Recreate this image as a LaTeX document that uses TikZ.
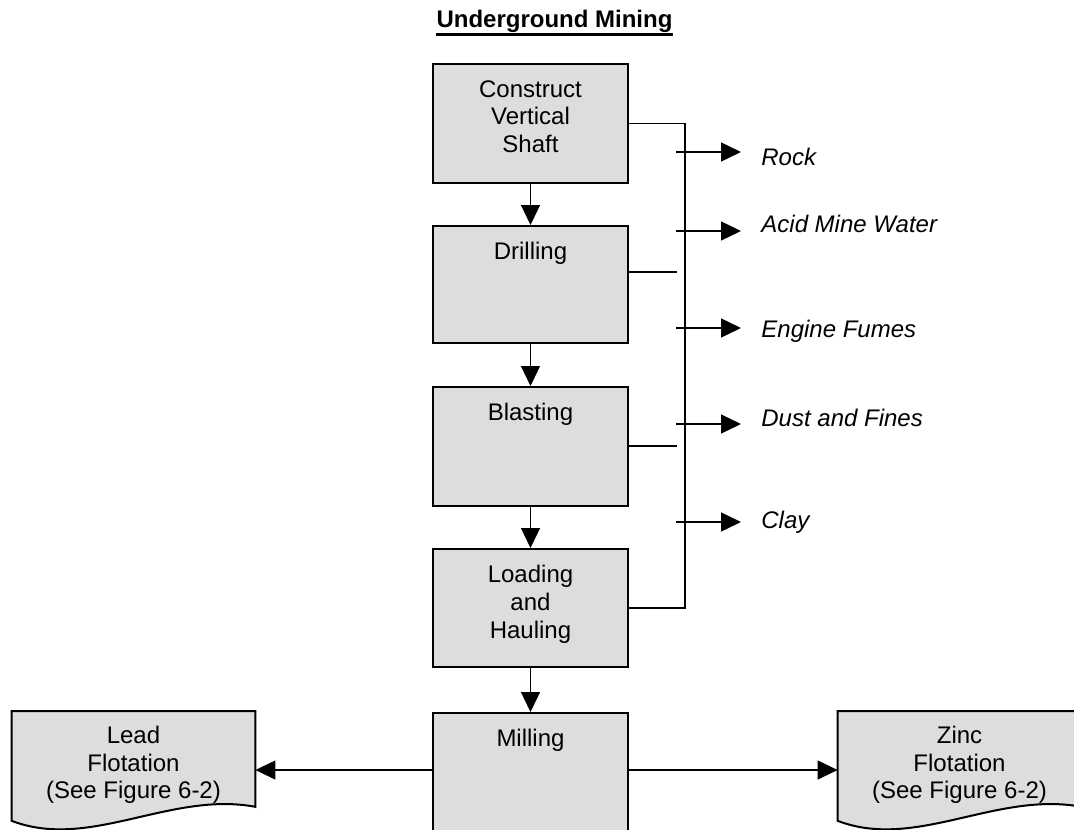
\documentclass[tikz,border=0pt]{standalone}
\usepackage{fontspec}
\setmainfont{Liberation Sans}
\usepackage{xcolor}
\usetikzlibrary{calc,
	positioning,
	arrows.meta}
\definecolor{boxgray}{RGB}{221,221,221}
\newcommand{\txtsize}{\fontsize{12pt}{13.8pt}\selectfont}
\tikzstyle{proc}=[draw, fill=boxgray, line width=1pt, minimum width=97.5pt, inner sep=0]
\tikzstyle{toplbl}=[anchor=north, inner sep=0, yshift=-8.5pt, align=center, font=\txtsize]
\tikzstyle{doc}=[anchor=north, minimum width=121.5pt, minimum height=53.5pt, inner sep=0,
		align=center, font=\txtsize]
\tikzstyle{docline}=[draw, fill=boxgray, line width=1pt]
\tikzstyle{wire}=[line width=0.65pt]
\tikzstyle{flow}=[line width=0.65pt, -{Triangle[length=10pt,width=9.5pt]}]
\tikzstyle{outlbl}=[anchor=base west, inner xsep=10pt, inner ysep=0, font=\txtsize\itshape]
\pgfdeclarelayer{back}
\pgfsetlayers{back,main}

\begin{document}
\begin{tikzpicture}[x=0.5pt, y=-0.5pt]
        \useasboundingbox (0,0) rectangle (1074,829);
        \node[anchor=base, inner sep=0, font=\txtsize\bfseries] (title) at (554.5,28) {Underground Mining};
        \draw[line width=1.4pt] ([yshift=-0.6pt]title.south west) -- ([yshift=-0.6pt]title.south east);

        % process column
        \node[proc, minimum height=59.5pt, label={[toplbl]north:Construct\\Vertical\\Shaft}] (shaft) at (530.5,123.5) {};
        \node[proc, minimum height=58.5pt, label={[toplbl]north:Drilling}] (drill) at (530.5,284.5) {};
        \node[proc, minimum height=59.5pt, label={[toplbl]north:Blasting}] (blast) at (530.5,446.5) {};
        \node[proc, minimum height=59pt, label={[toplbl]north:Loading\\and\\Hauling}] (load) at (530.5,608) {};
        \node[proc, anchor=north, minimum height=70pt, label={[toplbl]north:Milling}] (mill) at (530.5,712) {};
        \draw[flow] (shaft) -- (drill);
        \draw[flow] (drill) -- (blast);
        \draw[flow] (blast) -- (load);
        \draw[flow] (load) -- (mill);

        % side streams
        \coordinate (buscorner) at (685,608);
        \draw[wire] (shaft.east) -| (buscorner) -- (load.east);
        \coordinate (drillstub) at (677,272);
        \draw[wire] (drill.east |- drillstub) -- (drillstub);
        \coordinate (blaststub) at (677,446);
        \draw[wire] (blast.east |- blaststub) -- (blaststub);

        \node[outlbl] (rock) at (741,165) {Rock};
        \node[outlbl] (water) at (741,232) {Acid Mine Water};
        \node[outlbl] (fumes) at (741,337) {Engine Fumes};
        \node[outlbl] (dust) at (741,426) {Dust and Fines};
        \node[outlbl] (clay) at (741,528) {Clay};
        \coordinate (rockin) at (676,152);
        \coordinate (waterin) at (676,231);
        \coordinate (fumesin) at (676,328);
        \coordinate (dustin) at (676,424);
        \coordinate (clayin) at (676,522);
        \draw[flow] (rockin) -- (rockin -| rock.west);
        \draw[flow] (waterin) -- (waterin -| water.west);
        \draw[flow] (fumesin) -- (fumesin -| fumes.west);
        \draw[flow] (dustin) -- (dustin -| dust.west);
        \draw[flow] (clayin) -- (clayin -| clay.west);

        % flotation
        \node[doc] (lead) at (133.5,711) {Lead\\Flotation\\(See Figure 6-2)};
        \node[doc] (zinc) at (959.5,711) {Zinc\\Flotation\\(See Figure 6-2)};
        \begin{pgfonlayer}{back}
        \draw[docline] (lead.north west) -- (lead.north east) -- ([yshift=6pt]lead.south east)
            .. controls ([xshift=-42.5pt,yshift=14pt]lead.south east) and ([xshift=39pt,yshift=-16pt]lead.south west)
            .. ([yshift=-1pt]lead.south west) -- cycle;
        \draw[docline] (zinc.north west) -- (zinc.north east) -- ([yshift=6pt]zinc.south east)
            .. controls ([xshift=-42.5pt,yshift=14pt]zinc.south east) and ([xshift=39pt,yshift=-16pt]zinc.south west)
            .. ([yshift=-1pt]zinc.south west) -- cycle;
        \end{pgfonlayer}
        \coordinate (millport) at (530.5,770);
        \draw[flow] (mill.west |- millport) -- (lead.east |- millport);
        \draw[flow] (mill.east |- millport) -- (zinc.west |- millport);
    \end{tikzpicture}
\end{document}
